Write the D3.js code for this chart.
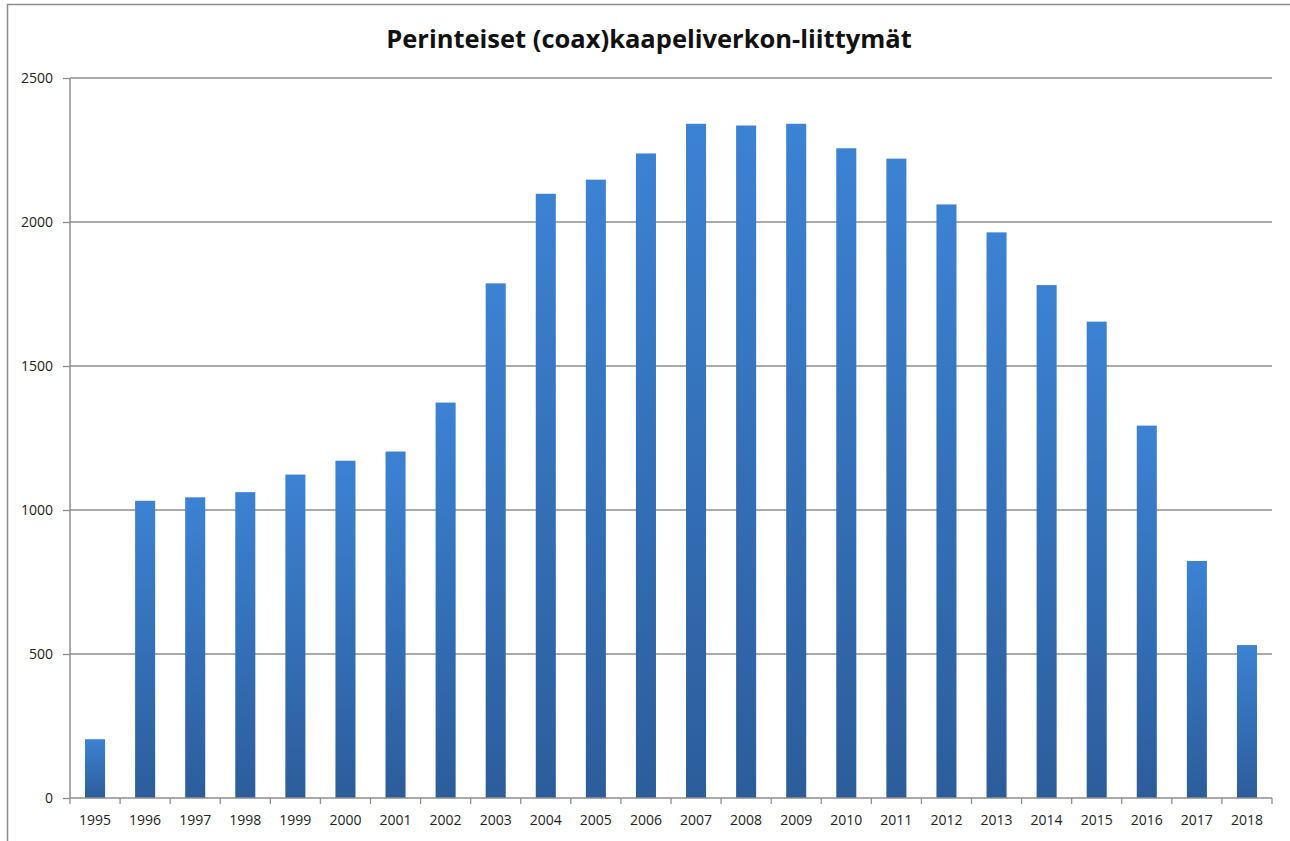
<!DOCTYPE html>
<html>
<head>
<meta charset="utf-8">
<script src="https://cdn.jsdelivr.net/npm/d3@7"></script>
<style>
  html, body { margin: 0; padding: 0; background: #fff; }
  svg { display: block; }
</style>
</head>
<body>
<div id="chart"></div>
<script>
// vuosittaiset liittymät
var years = ["1995", "1996", "1997", "1998", "1999", "2000", "2001", "2002", "2003", "2004", "2005", "2006",
  "2007", "2008", "2009", "2010", "2011", "2012", "2013", "2014", "2015", "2016", "2017", "2018"];
var subscriptions = [204, 1032, 1044, 1062, 1123, 1171, 1203, 1373, 1787, 2098, 2147, 2238,
  2341, 2335, 2341, 2256, 2220, 2061, 1964, 1781, 1654, 1293, 823, 531];
var yTicks = [0, 500, 1000, 1500, 2000, 2500];
var title = "Perinteiset (coax)kaapeliverkon-liittymät";

(function() {
  var W = 1290, H = 841;
  var pLeft = 70, pRight = 1272, pTop = 78, pBottom = 798;
  var font = "'Open Sans', 'Noto Sans', sans-serif";

  var svg = d3.select("#chart").append("svg")
    .attr("width", W).attr("height", H)
    .style("font-family", font);

  var grad = svg.append("defs").append("linearGradient")
    .attr("id", "barGrad").attr("x1", 0).attr("y1", 0).attr("x2", 0).attr("y2", 1);
  grad.append("stop").attr("offset", "0%").attr("stop-color", "#3c82d3");
  grad.append("stop").attr("offset", "100%").attr("stop-color", "#2c5d9b");

  // kehys
  svg.append("rect")
    .attr("x", 7.5).attr("y", 4.5).attr("width", W).attr("height", H)
    .attr("fill", "none").attr("stroke", "#8c8c8c").attr("stroke-width", 1.5);

  svg.append("text")
    .attr("x", 649).attr("y", 48)
    .attr("text-anchor", "middle")
    .attr("font-size", 25.5).attr("font-weight", "bold").attr("fill", "#111")
    .text(title);

  var x = d3.scaleBand().domain(years).range([pLeft, pRight]).paddingInner(0.6).paddingOuter(0.3);
  var xb = d3.scaleBand().domain(years).range([pLeft, pRight]);
  var y = d3.scaleLinear().domain([0, 2500]).range([pBottom, pTop]);

  // ruudukko
  svg.append("g")
    .selectAll("line")
    .data(yTicks.filter(function(d) { return d > 0; }))
    .join("line")
    .attr("x1", pLeft).attr("x2", pRight)
    .attr("y1", function(d) { return y(d); })
    .attr("y2", function(d) { return y(d); })
    .attr("stroke", "#8e8e8e").attr("stroke-width", 1.3);

  svg.append("g")
    .selectAll("rect")
    .data(subscriptions)
    .join("rect")
    .attr("x", function(d, i) { return x(years[i]); })
    .attr("width", x.bandwidth())
    .attr("y", function(d) { return y(d); })
    .attr("height", function(d) { return y(0) - y(d); })
    .attr("fill", "url(#barGrad)");

  var yAxis = svg.append("g")
    .attr("transform", "translate(" + pLeft + ",0)")
    .call(d3.axisLeft(y).tickValues(yTicks).tickSize(7).tickPadding(10).tickFormat(d3.format("d")));

  // x-akselin väliviivat kategorioiden rajoille
  var xAxis = svg.append("g")
    .attr("transform", "translate(0," + pBottom + ")")
    .call(d3.axisBottom(xb).tickSize(0).tickPadding(17));
  xAxis.selectAll(".tick").append("line")
    .attr("x1", xb.bandwidth() / 2).attr("x2", xb.bandwidth() / 2)
    .attr("y1", 0).attr("y2", 6);
  xAxis.append("line").attr("class", "edge").attr("x1", pLeft).attr("x2", pLeft).attr("y1", 0).attr("y2", 6);

  [yAxis, xAxis].forEach(function(g) {
    g.select(".domain").attr("stroke", "#8e8e8e").attr("stroke-width", 1.5);
    g.selectAll("line").attr("stroke", "#8e8e8e").attr("stroke-width", 1.3);
    g.selectAll("text").attr("font-size", 14).attr("fill", "#222").style("font-family", font);
  });
  yAxis.select(".domain").attr("d", "M0," + pTop + "V" + pBottom);
  xAxis.select(".domain").attr("d", "M" + pLeft + ",0H" + pRight);
})();
</script>
</body>
</html>
